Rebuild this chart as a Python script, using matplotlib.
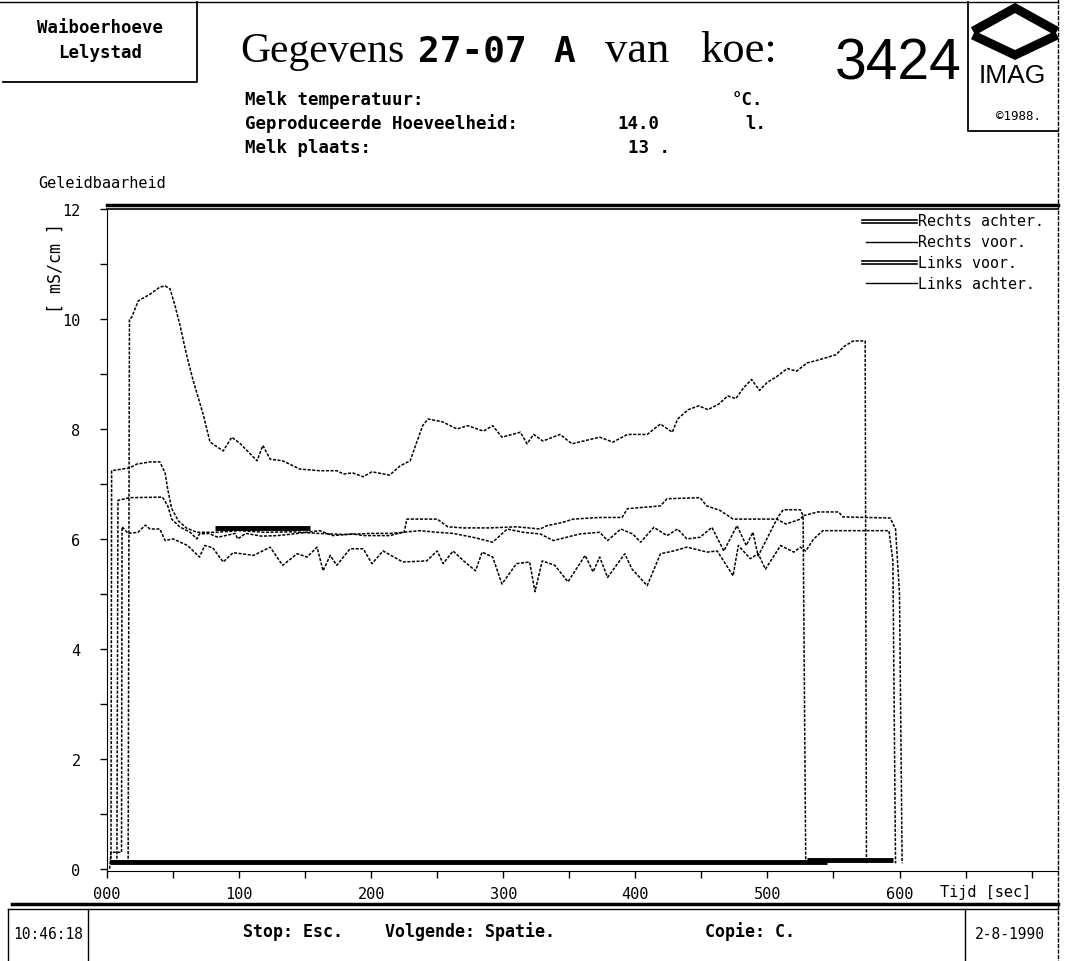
import numpy as np
import matplotlib
matplotlib.use('Agg')
from matplotlib import pyplot as plt
from matplotlib.lines import Line2D

plt.rcParams['font.family'] = 'DejaVu Sans Mono'

# ---------------------------------------------------------------- data
# time [s] / conductivity [mS/cm] for the four quarters
A_t = [16, 17, 18.7, 23.7, 32.6, 40, 44, 47.7, 51.5, 55.3,
       60.4, 65, 73, 78, 88, 94.5, 101, 113.6, 118, 123.5,
       133, 146, 161, 174, 179, 186, 194, 200.6, 214, 222,
       229.5, 239, 243, 254, 265, 273, 285, 292, 299, 313,
       318, 323, 330, 343, 352, 373, 383, 394, 409, 419,
       428, 432, 440, 448, 455, 463, 470, 476, 482, 488,
       494, 500, 507, 515, 522, 530, 538, 545, 552, 558,
       565, 574, 575]
A_v = [0.1, 10.0, 10.03, 10.33, 10.45, 10.58, 10.6, 10.55, 10.24, 9.88,
       9.33, 8.9, 8.25, 7.76, 7.6, 7.85, 7.73, 7.42, 7.7, 7.45,
       7.42, 7.27, 7.24, 7.24, 7.18, 7.2, 7.13, 7.22, 7.16, 7.33,
       7.42, 8.06, 8.18, 8.13, 8.0, 8.06, 7.96, 8.06, 7.85, 7.94,
       7.73, 7.9, 7.78, 7.9, 7.73, 7.85, 7.76, 7.9, 7.9, 8.09,
       7.94, 8.18, 8.35, 8.42, 8.35, 8.45, 8.6, 8.55, 8.75, 8.9,
       8.7, 8.85, 8.95, 9.1, 9.05, 9.2, 9.25, 9.3, 9.35, 9.5,
       9.6, 9.6, 0.1]

B_t = [3, 3.5, 17, 22.5, 32.6, 40, 44, 46, 49, 54,
       60, 68, 82, 100, 120, 140, 160, 180, 200, 215,
       225, 227, 250, 258, 270, 290, 310, 328, 333, 345,
       353, 373, 390, 394, 419, 424, 449, 454, 464, 474,
       507, 514, 525, 527, 529]
B_v = [0.1, 7.24, 7.29, 7.36, 7.4, 7.4, 7.2, 6.9, 6.55, 6.33,
       6.2, 6.12, 6.12, 6.15, 6.12, 6.13, 6.1, 6.08, 6.1, 6.1,
       6.12, 6.36, 6.36, 6.22, 6.2, 6.2, 6.22, 6.18, 6.24, 6.3,
       6.36, 6.39, 6.39, 6.55, 6.6, 6.73, 6.75, 6.6, 6.52, 6.36,
       6.36, 6.27, 6.36, 6.42, 0.15]

C_t = [7.5, 8.3, 17, 42, 46, 49, 55, 63, 68, 70,
       77, 84, 97, 99, 105, 117, 129, 141, 161, 171,
       186, 194, 214, 224, 237, 250, 262, 277, 292, 303,
       315, 328, 338, 358, 373, 379, 389, 398, 404, 414,
       424, 432, 439, 449, 458, 467, 477, 484, 489, 493,
       508, 512, 525, 527, 538, 554, 557, 593, 597, 600,
       602]
C_v = [0.1, 6.7, 6.75, 6.76, 6.6, 6.36, 6.22, 6.12, 6.0, 6.09,
       6.1, 6.03, 6.1, 6.0, 6.1, 6.05, 6.06, 6.09, 6.15, 6.06,
       6.09, 6.06, 6.06, 6.12, 6.15, 6.12, 6.1, 6.03, 5.94, 6.18,
       6.12, 6.09, 5.97, 6.09, 6.12, 5.97, 6.18, 6.09, 5.94, 6.21,
       6.06, 6.18, 6.0, 6.03, 6.21, 5.78, 6.24, 5.88, 6.12, 5.69,
       6.4, 6.53, 6.53, 6.42, 6.49, 6.49, 6.4, 6.38, 6.18, 5.0,
       0.1]

D_t = [2, 3, 11, 11.4, 16, 23.5, 29, 32.6, 40, 44,
       50, 61, 70, 74, 80, 88, 95.5, 111, 123.5, 133,
       144, 151.5, 159, 163.6, 169, 174, 184, 194, 200.6, 209,
       224, 242, 250, 254.5, 262, 270, 279, 284, 292, 299,
       310, 320, 324, 329.5, 339, 349, 362, 368, 373, 379,
       392, 397.5, 409, 419, 429, 439, 454.5, 462, 474, 478,
       487, 493, 498.5, 510, 520, 525, 529, 535, 542, 592,
       595, 597]
D_v = [0.0, 0.3, 0.3, 6.22, 6.1, 6.12, 6.25, 6.18, 6.18, 5.97,
       6.0, 5.88, 5.67, 5.88, 5.84, 5.58, 5.75, 5.7, 5.85, 5.52,
       5.73, 5.67, 5.85, 5.42, 5.7, 5.52, 5.82, 5.82, 5.55, 5.78,
       5.58, 5.6, 5.78, 5.55, 5.78, 5.6, 5.42, 5.76, 5.67, 5.18,
       5.55, 5.58, 5.04, 5.6, 5.52, 5.22, 5.7, 5.4, 5.67, 5.3,
       5.73, 5.45, 5.15, 5.73, 5.78, 5.85, 5.76, 5.78, 5.33, 5.88,
       5.64, 5.73, 5.45, 5.88, 5.76, 5.85, 5.78, 6.0, 6.15, 6.15,
       5.6, 0.1]

# heavy bars printed in the plot (start, end, level)
bar_start = [2, 530, 82]
bar_end = [545, 595, 154]
bar_level = [0.13, 0.16, 6.2]

legend_labels = ['Rechts achter.', 'Rechts voor.', 'Links voor.', 'Links achter.']
legend_double = [True, False, True, False]

xtick_vals = [0, 100, 200, 300, 400, 500, 600]
xtick_labels = ['000', '100', '200', '300', '400', '500', '600']
ytick_vals = [0, 2, 4, 6, 8, 10, 12]

# ---------------------------------------------------------------- figure
W, H = 1068, 962
fig = plt.figure(figsize=(W / 100, H / 100), dpi=100)
fig.patch.set_facecolor('white')


def fx(x):
    return x / W


def fy(y):
    return 1 - y / H


def fline(xs, ys, **kw):
    kw.setdefault('color', 'black')
    kw.setdefault('lw', 1)
    fig.add_artist(Line2D([fx(x) for x in xs], [fy(y) for y in ys],
                          transform=fig.transFigure, **kw))


def ftext(x, y, s, **kw):
    fig.text(fx(x), fy(y), s, transform=fig.transFigure, **kw)


ax = fig.add_axes([fx(107), fy(872), fx(1058) - fx(107), fy(210) - fy(872)])

dots = (0, (2, 1))
for t, v in [(A_t, A_v), (B_t, B_v), (C_t, C_v), (D_t, D_v)]:
    ax.plot(t, v, color='black', lw=1.1, linestyle=dots)
for s, e, l in zip(bar_start, bar_end, bar_level):
    ax.plot([s, e], [l, l], color='black', lw=3.5, solid_capstyle='butt')

ax.set_xlim(0, 720)
ax.set_ylim(-0.04, 12)
ax.set_xticks(xtick_vals)
ax.set_xticklabels(xtick_labels)
ax.set_xticks(np.arange(50, 701, 100).tolist() + [700], minor=True)
ax.set_yticks(ytick_vals)
ax.set_yticks(np.arange(1, 12, 2), minor=True)
ax.tick_params(which='both', direction='out', length=5, width=1)
ax.tick_params(axis='x', labelsize=11, pad=6)
ax.tick_params(axis='y', labelsize=11, pad=14)
ax.spines['right'].set_visible(False)
ax.spines['top'].set_linewidth(1.2)
ax.spines['left'].set_linestyle((0, (2, 0.6)))

# legend, drawn by hand like the original printout
for i, (lab, dbl) in enumerate(zip(legend_labels, legend_double)):
    y = 222 + i * 20.7
    if dbl:
        fline([862, 917], [y - 1.5, y - 1.5], lw=1.2)
        fline([862, 917], [y + 1.5, y + 1.5], lw=1.2)
    else:
        fline([866, 917], [y, y], lw=1)
    ftext(918, y, lab, fontsize=10.7, va='center', ha='left')

# frames
fline([0, 1058], [3, 3], lw=1)
fline([1058, 1058], [0, 962], lw=1, linestyle=(0, (3, 1)))
fline([3, 197, 197], [83, 83, 3], lw=1.3)
fline([968, 968, 1058], [3, 132, 132], lw=1.3)
fline([107, 1058], [206, 206], lw=2.5)
fline([12, 1058], [905, 905], lw=2.5)
fline([8, 1058], [910, 910], lw=1)
fline([8, 8], [910, 962], lw=1)
fline([88, 88], [910, 962], lw=1)
fline([965, 965], [910, 962], lw=1)

# header texts
ftext(100, 28, 'Waiboerhoeve', fontsize=12.5, fontweight='bold', ha='center', va='center')
ftext(100, 53, 'Lelystad', fontsize=12.5, fontweight='bold', ha='center', va='center')
ftext(240, 62, 'Gegevens', family='Liberation Serif', fontsize=30, va='baseline')
ftext(418, 62, '27-07', fontsize=26, fontweight='bold', va='baseline')
ftext(553, 62, 'A', fontsize=26, fontweight='bold', va='baseline')
ftext(605, 62, 'van', family='Liberation Serif', fontsize=32, va='baseline')
ftext(700, 62, 'koe:', family='Liberation Serif', fontsize=32, va='baseline')
ftext(835, 80, '3424', family='Liberation Sans', fontsize=41, va='baseline')

ftext(245, 100, 'Melk temperatuur:', fontsize=12.5, fontweight='bold', va='center')
ftext(245, 124, 'Geproduceerde Hoeveelheid:', fontsize=12.5, fontweight='bold', va='center')
ftext(245, 148, 'Melk plaats:', fontsize=12.5, fontweight='bold', va='center')
ftext(732, 100, '°C.', fontsize=12.5, fontweight='bold', va='center')
ftext(617, 124, '14.0', fontsize=12.5, fontweight='bold', va='center')
ftext(745, 124, 'l.', fontsize=12.5, fontweight='bold', va='center')
ftext(628, 148, '13 .', fontsize=12.5, fontweight='bold', va='center')

# IMAG logo
fline([977, 1015, 1053], [30, 9, 30], lw=6.5, solid_joinstyle='miter')
fline([977, 1015, 1053], [38, 56, 38], lw=6.5, solid_joinstyle='miter')
ftext(1012, 76, 'IMAG', family='Liberation Sans', fontsize=19, ha='center', va='center')
ftext(1018, 117, '©1988.', fontsize=9, ha='center', va='center')

# axis titles
ftext(38, 183, 'Geleidbaarheid', fontsize=11, va='center')
ftext(56, 268, '[ mS/cm ]', fontsize=12, rotation=90, ha='center', va='center')
ftext(940, 893, 'Tijd [sec]', fontsize=11, va='center')

# status bar
ftext(48, 935, '10:46:18', fontsize=10.5, ha='center', va='center')
ftext(243, 932, 'Stop: Esc.', fontsize=12, fontweight='bold', va='center')
ftext(385, 932, 'Volgende: Spatie.', fontsize=12, fontweight='bold', va='center')
ftext(705, 932, 'Copie: C.', fontsize=12, fontweight='bold', va='center')
ftext(1010, 935, '2-8-1990', fontsize=10.5, ha='center', va='center')

plt.savefig('out.png', dpi=100)
